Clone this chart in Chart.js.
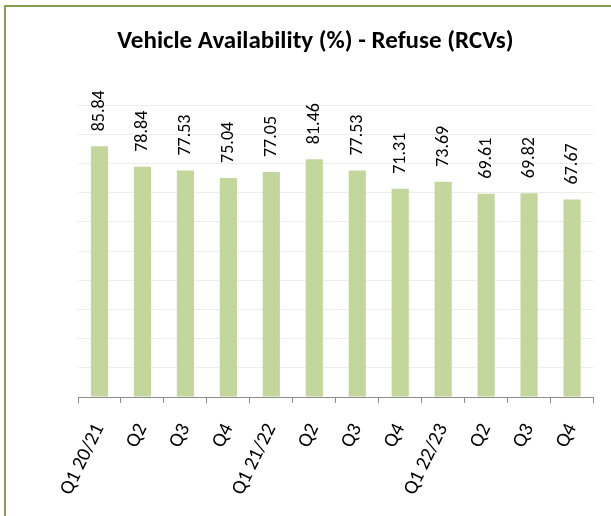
<!DOCTYPE html>
<html>
<head>
<meta charset="utf-8">
<script src="https://cdn.jsdelivr.net/npm/chart.js@4"></script>
<style>
  html, body { margin: 0; padding: 0; background: #fff; overflow: hidden; }
  #frame { position: absolute; left: 4px; top: 5px; width: 700px; height: 600px; border: 2px solid #849e4f; }
  #chart { position: absolute; left: 0; top: 0; }
</style>
</head>
<body>
<div id="frame"></div>
<canvas id="chart" width="611" height="516"></canvas>
<script>
    // chart data
    const quarters = ['Q1 20/21', 'Q2', 'Q3', 'Q4', 'Q1 21/22', 'Q2', 'Q3', 'Q4', 'Q1 22/23', 'Q2', 'Q3', 'Q4'];
    const availability = [85.84, 78.84, 77.53, 75.04, 77.05, 81.46, 77.53, 71.31, 73.69, 69.61, 69.82, 67.67];

    const FONT = "Carlito, Calibri, Lato, sans-serif";

    // value labels, written upwards above each bar
    const barLabels = {
        id: 'barLabels',
        afterDatasetsDraw(chart) {
            const ctx = chart.ctx;
            const meta = chart.getDatasetMeta(0);
            ctx.save();
            ctx.font = '18px ' + FONT;
            ctx.fillStyle = '#000';
            ctx.textAlign = 'left';
            ctx.textBaseline = 'middle';
            meta.data.forEach((bar, i) => {
                ctx.save();
                ctx.translate(bar.x, bar.y - 15);
                ctx.rotate(-Math.PI / 2);
                ctx.fillText(availability[i].toFixed(2), 0, 0);
                ctx.restore();
            });
            ctx.restore();
        }
    };

    const ctx = document.getElementById('chart').getContext('2d');
    const chart = new Chart(ctx, {
        type: 'bar',
        data: {
            labels: quarters,
            datasets: [{
                label: 'Vehicle Availability (%)',
                data: availability,
                backgroundColor: '#c3d69b',
                borderWidth: 0,
                categoryPercentage: 1,
                barPercentage: 0.4
            }]
        },
        options: {
            responsive: false,
            animation: false,
            layout: { padding: { left: 29, right: 9, top: 0, bottom: 0 } },
            plugins: {
                legend: { display: false },
                tooltip: { enabled: false },
                title: {
                    display: true,
                    text: 'Vehicle Availability (%) - Refuse (RCVs)',
                    font: { size: 25, weight: 'bold', family: FONT },
                    color: '#000',
                    padding: { top: 27, bottom: 48 }
                }
            },
            scales: {
                y: {
                    min: 0,
                    max: 100,
                    ticks: { display: false, stepSize: 10 },
                    grid: { color: '#ededed', drawTicks: false },
                    border: { display: false },
                    afterFit: (scale) => { scale.width = 49; }
                },
                x: {
                    grid: { drawOnChartArea: false, drawTicks: true, tickLength: 6, color: '#8c8c8c', offset: true },
                    border: { display: true, color: '#8c8c8c' },
                    ticks: {
                        color: '#000',
                        font: { size: 20, family: FONT },
                        minRotation: 64,
                        maxRotation: 64,
                        autoSkip: false,
                        padding: 17
                    },
                    afterFit: (scale) => { scale.height = 119; }
                }
            }
        },
        plugins: [barLabels]
    });
</script>
</body>
</html>
